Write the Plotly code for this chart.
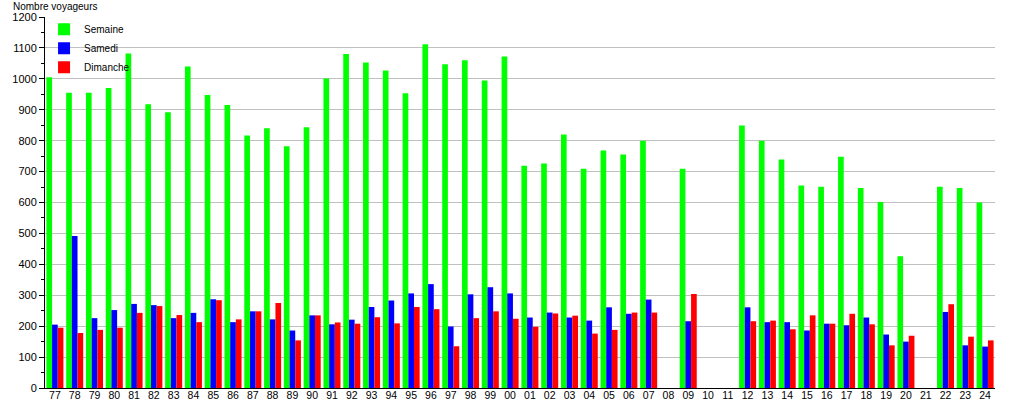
import plotly.graph_objects as go

annees = ["77","78","79","80","81","82","83","84","85","86","87","88","89","90","91","92",
          "93","94","95","96","97","98","99","00","01","02","03","04","05","06","07","08",
          "09","10","11","12","13","14","15","16","17","18","19","20","21","22","23","24"]
semaine = [1005,955,955,970,1082,918,892,1040,948,915,817,840,782,843,1001,1080,
           1053,1027,953,1112,1047,1060,995,1072,719,726,820,709,768,755,800,None,
           709,None,None,849,800,739,655,651,748,647,602,426,None,651,647,600]
samedi = [205,492,226,252,272,268,226,243,287,213,248,222,186,235,206,221,
          262,283,306,336,199,303,326,306,228,244,228,218,261,240,286,None,
          216,None,None,261,213,213,186,208,203,228,173,150,None,246,138,134]
dimanche = [195,178,188,195,243,265,236,213,284,222,248,275,154,235,212,208,
            229,209,262,255,135,226,248,224,198,241,234,176,188,244,244,None,
            304,None,None,216,218,190,235,208,240,206,138,169,None,271,166,154]

fig = go.Figure()
fig.add_trace(go.Bar(name="Semaine", x=annees, y=semaine, marker=dict(color="#00ff00", line_width=0)))
fig.add_trace(go.Bar(name="Samedi", x=annees, y=samedi, marker=dict(color="#0000ff", line_width=0)))
fig.add_trace(go.Bar(name="Dimanche", x=annees, y=dimanche, marker=dict(color="#ff0000", line_width=0)))

fig.update_layout(
    width=1015, height=400,
    margin=dict(l=45, r=20, t=17, b=12, autoexpand=False),
    paper_bgcolor="white", plot_bgcolor="white",
    barmode="group", bargap=0.14, bargroupgap=0,
    font=dict(family="Liberation Sans, Arial, sans-serif", size=11, color="black"),
    showlegend=True,
    legend=dict(x=-0.001, y=1.006, xanchor="left", yanchor="top",
                bgcolor="rgba(0,0,0,0)", font=dict(size=10), tracegroupgap=0),
    annotations=[dict(text="Nombre voyageurs", xref="paper", yref="paper",
                      x=-45/950, y=1, xanchor="left", yanchor="bottom",
                      xshift=11, yshift=3, showarrow=False, font=dict(size=10))],
)
fig.update_xaxes(type="category", showline=True, linecolor="black", linewidth=1,
                 ticks="", showgrid=False, tickfont=dict(size=10.5), automargin=False,
                 ticklabelstandoff=-3)
fig.update_yaxes(range=[0, 1200], dtick=100, showline=True, linecolor="black", linewidth=1,
                 ticks="outside", ticklen=5, tickcolor="black",
                 minor=dict(dtick=50, ticks="outside", ticklen=3, tickcolor="black", showgrid=False),
                 showgrid=True, gridcolor="#c0c0c0", gridwidth=1, zeroline=False,
                 tickfont=dict(size=11), automargin=False)

fig.write_html("out.html", config={"displayModeBar": False},
               post_script="document.body.style.margin='0px';")
